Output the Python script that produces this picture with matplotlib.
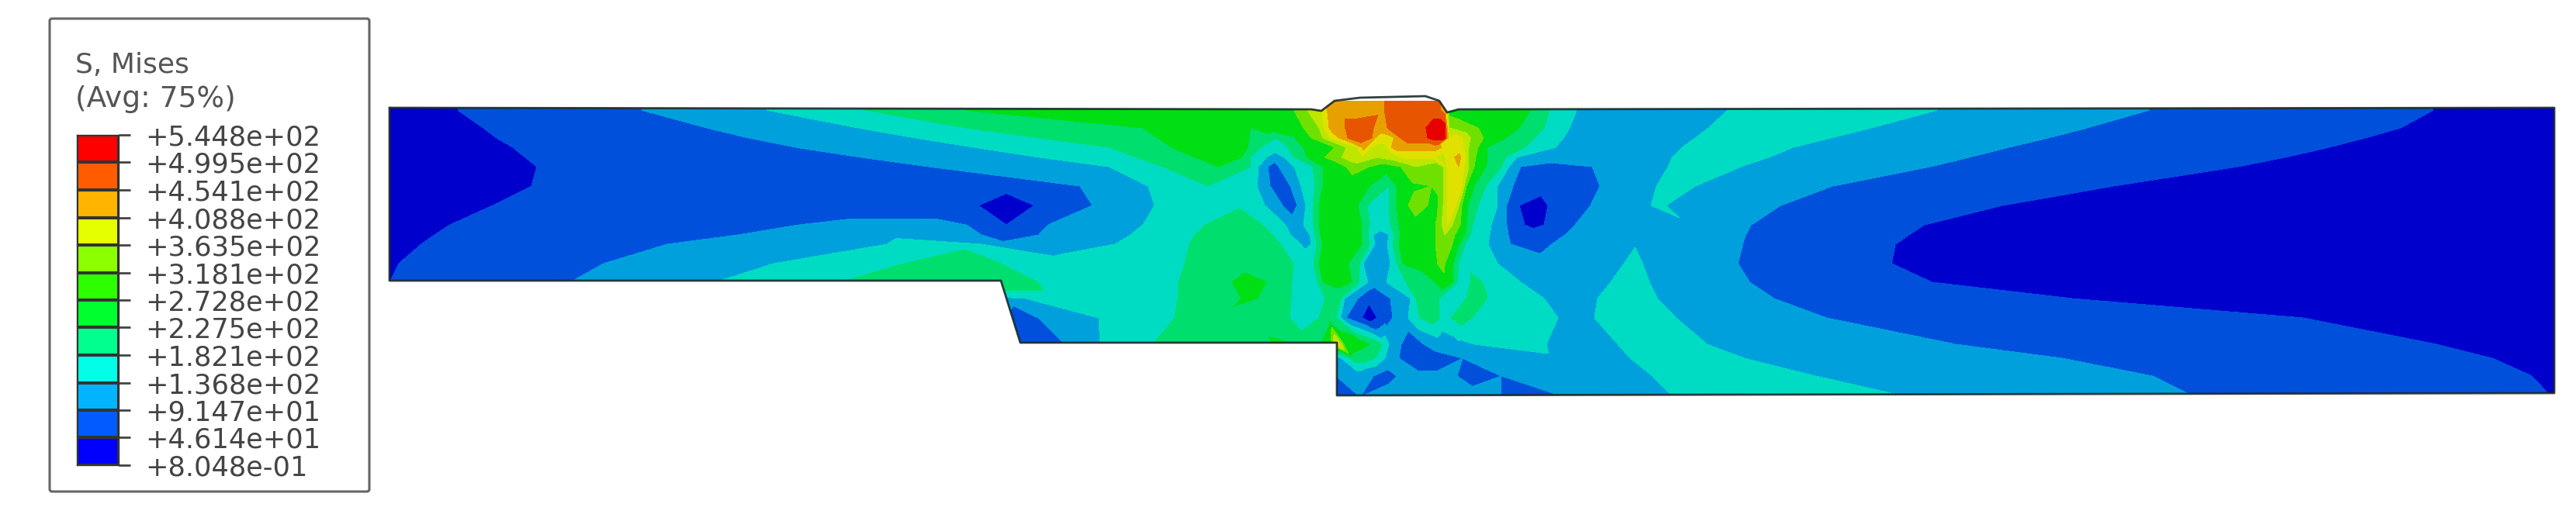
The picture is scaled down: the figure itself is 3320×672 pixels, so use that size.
import numpy as np
import matplotlib
matplotlib.use("Agg")
import matplotlib.pyplot as plt
import matplotlib.tri as mtri
from matplotlib.patches import PathPatch, FancyBboxPatch
from matplotlib.path import Path
from matplotlib.colors import ListedColormap, BoundaryNorm

LEGEND_TITLE = ["S, Mises", "(Avg: 75%)"]
LEVELS = [0.8048, 46.14, 91.47, 136.8, 182.1, 227.5, 272.8, 318.1, 363.5, 408.8, 454.1, 499.5, 544.8]
LEVEL_LABELS = ["+8.048e-01", "+4.614e+01", "+9.147e+01", "+1.368e+02", "+1.821e+02", "+2.275e+02",
                "+2.728e+02", "+3.181e+02", "+3.635e+02", "+4.088e+02", "+4.541e+02", "+4.995e+02", "+5.448e+02"]
LEGEND_COLORS = ["#0000ff", "#005cff", "#00b4ff", "#00ffe6", "#00ff8c", "#00ff2e",
                 "#2eff00", "#8cff00", "#e6ff00", "#ffb400", "#ff5c00", "#ff0000"]
BODY_COLORS = ["#0000cd", "#0050dc", "#00a0dc", "#00dcc3", "#00de6e", "#00de14",
               "#6ee100", "#bee600", "#e1e100", "#e8a000", "#e85500", "#e60000"]

# outline of the section (x px, y px)
OUTLINE_X = [502, 3292, 3292, 1723, 1723, 1315, 1290, 502, 502]
OUTLINE_Y = [139, 139, 507, 510, 442, 442, 362, 362, 139]
CAP_X = [1690, 1703, 1720, 1753, 1837, 1855, 1865, 1880]
CAP_Y = [141, 143, 130, 126, 124, 130, 145, 141]

# Samples: (x, contour band position), row by row.
row_130 = [(502,.5),(590,1),(700,1.5),(827,2),(900,2.5),(988,3),(1050,3.5),(1114,4),(1180,4.5),(1245,5),(1450,5.5),(1608,5.7),(1690,6),(1710,9),(1730,9.5),(1780,9.8),(1795,10.5),(1850,10.5),(1862,9.5),(1880,5.5),(1972,5),(1997,4),(2032,3),(2120,2.5),(2227,3),(2360,3.5),(2497,3),(2630,2.5),(2770,2),(2950,1.5),(3136,1),(3292,.5)]
row_142 = [(502,.5),(590,1),(700,1.5),(827,2),(900,2.5),(988,3),(1050,3.5),(1114,4),(1180,4.5),(1245,5),(1450,5.5),(1608,5.7),(1660,5.7),(1680,6.5),(1690,7.5),(1703,8),(1712,9.2),(1730,9.5),(1780,9.8),(1795,10.5),(1850,10.5),(1862,9.5),(1868,5.5),(1972,5),(1997,4),(2032,3),(2120,2.5),(2227,3),(2360,3.5),(2497,3),(2630,2.5),(2770,2),(2950,1.5),(3136,1),(3292,.5)]
row_165 = [(502,.5),(623,1),(760,1.5),(911,2),(1010,2.5),(1106,3),(1180,3.5),(1245,4),(1360,4.5),(1473,5),(1540,5.5),(1600,5.5),(1612,5),(1640,5.5),(1680,6),(1700,7),(1710,8.5),(1716,9.5),(1733,9.9),(1738,10.5),(1765,10.5),(1772,9.8),(1780,9.5),(1788,10),(1810,10.5),(1835,10.8),(1845,11.5),(1862,11.5),(1868,7),(1890,6.5),(1905,6),(1958,5),(1990,4),(2023,3),(2120,2.5),(2202,3),(2300,3.5),(2412,3),(2550,2.5),(2690,2),(2880,1.5),(3094,1),(3292,.5)]
row_178 = [(502,.5),(640,1),(800,1.5),(965,2),(1075,2.5),(1180,3),(1265,3.5),(1340,4),(1420,4.5),(1492,5),(1550,5.5),(1604,5.5),(1612,4.8),(1625,4.5),(1645,4),(1665,4.8),(1690,6),(1705,7),(1720,8.5),(1732,9.5),(1737,10),(1750,10.5),(1768,10),(1772,9),(1780,8.5),(1795,8.8),(1805,10),(1830,10.5),(1840,11),(1850,11.5),(1862,11.3),(1868,8),(1880,8.5),(1890,7.5),(1900,6.5),(1912,6),(1940,5),(1978,4),(2015,3),(2100,2.5),(2185,3),(2270,3.5),(2360,3),(2500,2.5),(2640,2),(2840,1.5),(3048,1),(3292,.5)]
row_190 = [(502,.5),(661,1),(840,1.5),(1025,2),(1140,2.5),(1255,3),(1350,3.5),(1429,4),(1480,4.5),(1510,5),(1560,5.5),(1604,5.5),(1612,4.5),(1625,4),(1642,3.5),(1660,4),(1680,5),(1700,5.7),(1720,6),(1735,7),(1748,7.8),(1752,8.5),(1758,9.5),(1763,8.5),(1770,7.8),(1785,7.5),(1790,8.5),(1797,9.5),(1850,9.5),(1858,9),(1862,8.5),(1868,9),(1882,8.5),(1893,7),(1905,6),(1917,5),(1950,4.5),(1965,4),(2005,3),(2090,2.5),(2168,3),(2240,3.5),(2311,3),(2450,2.5),(2589,2),(2800,1.5),(3002,1),(3292,.5)]
row_203 = [(502,.5),(677,1),(890,1.5),(1110,2),(1230,2.5),(1340,3),(1405,3.5),(1465,4),(1510,4.5),(1540,5),(1570,5.5),(1600,5),(1612,4),(1622,3.5),(1632,3),(1645,2.5),(1655,3),(1668,4),(1685,5),(1700,5.7),(1720,6.5),(1740,7.5),(1755,7.8),(1775,7),(1795,7.5),(1810,8.2),(1845,8.2),(1860,7.5),(1866,8.5),(1880,9.3),(1887,8.5),(1893,7),(1902,6),(1917,5),(1940,4),(1955,3),(1990,2.7),(2030,2.7),(2100,2.5),(2155,3),(2220,3.5),(2280,3),(2400,2.5),(2538,2),(2740,1.5),(2945,1),(3292,.5)]
row_215 = [(502,.5),(692,1),(950,1.5),(1197,2),(1320,2.5),(1429,3),(1460,3.5),(1498,4),(1540,4.5),(1570,5),(1600,4.8),(1612,4),(1622,3),(1634,2),(1640,1.5),(1648,2),(1668,3),(1678,3.5),(1692,4),(1705,5),(1725,5.5),(1745,6.5),(1765,6),(1785,5.5),(1805,6),(1825,7),(1855,6),(1865,8),(1880,9),(1887,8),(1893,7),(1900,6),(1915,5),(1935,4),(1945,3),(1960,2),(2005,1.5),(2052,2),(2100,2.5),(2150,3),(2200,3.5),(2244,3),(2370,2.5),(2488,2),(2690,1.5),(2884,1),(3292,.5)]
row_240 = [(502,.5),(685,1),(1000,1.5),(1200,1.6),(1297,1.3),(1392,2),(1440,2.5),(1480,3),(1520,3.5),(1557,4),(1585,3.8),(1600,3.5),(1620,3),(1628,2.5),(1637,2),(1650,1.5),(1663,2),(1677,3),(1687,3.5),(1695,4),(1705,5),(1740,5.3),(1765,5),(1780,4.5),(1790,4),(1800,5),(1820,5.8),(1845,6),(1858,6.5),(1866,8),(1878,9),(1884,8),(1890,6),(1900,5),(1915,4),(1930,3),(1945,2.2),(1950,2),(1995,1.5),(2062,2),(2095,2.5),(2135,3),(2160,3.5),(2185,3),(2280,2.5),(2362,2),(2550,1.5),(2724,1),(3292,.5)]
row_265 = [(502,.5),(635,1),(1000,1.5),(1230,1.5),(1261,1),(1297,.5),(1333,1),(1370,1.5),(1408,2),(1450,2.5),(1488,3),(1550,3.5),(1597,3.9),(1610,3.5),(1630,3),(1642,2.5),(1653,2),(1663,1.5),(1672,2),(1683,3),(1692,4),(1700,5),(1725,5.5),(1750,5),(1762,4),(1775,3.5),(1790,4),(1800,5),(1815,6),(1830,6.5),(1850,5.5),(1860,7),(1868,8.5),(1876,8),(1884,6),(1892,5),(1905,4),(1930,3),(1942,2),(1958,1),(1977,.5),(1995,1),(2050,2),(2090,2.5),(2128,3),(2138,3.5),(2147,3),(2220,2.5),(2295,2),(2440,1.5),(2581,1),(3292,.5)]
row_290 = [(502,.5),(580,1),(800,1.5),(1030,2),(1130,2.2),(1200,2.2),(1245,2),(1270,1.5),(1297,1),(1325,1.5),(1351,2),(1410,2.5),(1473,3),(1510,3.5),(1553,4),(1600,4.5),(1627,4),(1645,3.5),(1657,3),(1668,2.5),(1680,3),(1693,4),(1700,5),(1730,5.6),(1755,5),(1765,4),(1778,3.5),(1792,4),(1803,5),(1820,5.6),(1845,5.5),(1855,6.5),(1865,8),(1872,7),(1882,6),(1890,5),(1898,4),(1912,3.5),(1922,3),(1935,2.5),(1942,2),(1955,1.5),(1965,1),(1977,.7),(1990,1),(2005,1.5),(2030,2),(2075,2.5),(2100,2.7),(2180,2.7),(2257,2),(2370,1.5),(2480,1),(3292,.5)]
row_303 = [(502,.5),(560,1),(760,1.5),(951,2),(1100,2.5),(1265,2),(1300,1.5),(1339,2),(1400,2.5),(1457,3),(1500,3.5),(1540,4),(1585,4.5),(1620,4.5),(1640,4),(1652,3.5),(1663,3),(1675,2.5),(1688,3),(1695,4),(1702,5),(1730,5.5),(1755,5),(1763,4),(1770,3),(1780,2.6),(1790,3),(1797,4),(1805,5),(1830,5.5),(1850,6),(1862,7),(1870,6.5),(1880,5.5),(1888,5),(1895,4),(1908,3.4),(1920,3),(1935,2.5),(1944,2),(1975,1.5),(2017,2),(2060,2.5),(2108,2.8),(2180,2.7),(2250,2),(2360,1.5),(2460,1),(3292,.5)]
row_315 = [(502,.5),(543,1),(680,1.5),(860,2),(1000,2.5),(1143,3),(1205,3.5),(1245,3.8),(1265,3),(1280,2.5),(1290,2.2),(1340,2.5),(1437,3),(1490,3.5),(1533,4),(1600,4.5),(1650,4),(1662,3.5),(1677,3),(1682,2.8),(1690,3),(1697,4),(1705,5),(1735,5.5),(1755,5),(1765,4),(1772,3),(1780,2.4),(1788,3),(1795,4),(1803,5),(1830,5.5),(1850,6),(1862,6.8),(1872,6),(1880,5),(1888,4),(1905,3.5),(1918,3),(1935,2.5),(1947,2),(1970,1.5),(2000,2),(2040,2.4),(2108,2.9),(2180,2.7),(2246,2),(2350,1.5),(2443,1),(3292,.5)]
row_340 = [(502,.6),(514,1),(640,1.5),(778,2),(890,2.5),(997,3),(1080,3.5),(1165,4),(1240,4.5),(1290,4),(1400,3.5),(1527,4),(1600,4.5),(1667,4),(1680,3.5),(1693,4),(1700,5),(1730,5.5),(1752,4),(1757,3),(1762,2.5),(1785,2.5),(1792,3),(1800,4),(1808,5),(1835,5.5),(1860,6.2),(1868,5.5),(1875,4.8),(1880,4),(1886,3.8),(1930,3),(2000,2.5),(2093,3),(2105,3.5),(2117,3),(2180,2.5),(2240,2),(2340,1.5),(2438,1),(3292,.5)]
row_364 = [(502,1),(620,1.5),(735,2),(880,2.5),(922,3),(1000,3.5),(1083,4),(1200,4.5),(1289,4.5),(1320,4.2),(1337,4),(1400,3.5),(1519,4),(1570,4.5),(1588,5),(1609,5.5),(1632,5),(1650,4.5),(1665,4),(1675,3.5),(1690,3.1),(1698,4),(1705,5),(1730,5.3),(1742,5),(1752,4),(1757,3.9),(1763,3),(1770,2.5),(1787,3),(1800,3.5),(1812,4),(1830,4.3),(1850,5),(1862,5.8),(1872,5),(1878,4),(1884,3.8),(1895,4),(1905,4.2),(1911,4),(1960,3),(2010,2.5),(2076,3),(2100,3.5),(2126,3),(2190,2.5),(2255,2),(2380,1.5),(2490,1),(3292,.5)]
row_385 = [(1298,2.3),(1322,3),(1400,3.5),(1518,4),(1590,4.5),(1600,5),(1609,5.3),(1620,5),(1640,4.5),(1664,4),(1677,3.5),(1690,3.4),(1700,3.9),(1708,4),(1716,4.5),(1728,4),(1733,3),(1740,2.5),(1750,2),(1757,1.5),(1765,1.2),(1775,1),(1783,1.5),(1792,2),(1805,2.5),(1818,3),(1825,4),(1840,4.6),(1855,4),(1865,3.5),(1885,3.8),(1890,4),(1905,4.5),(1917,4),(1950,3.5),(1990,3),(2040,2.5),(2059,3),(2100,3.5),(2136,3),(2200,2.5),(2286,2),(2420,1.5),(2670,1),(3292,.5)]
row_410 = [(1304,1.8),(1320,1.5),(1338,2),(1370,2.5),(1416,3),(1465,3.5),(1514,4),(1560,4.5),(1640,4.5),(1662,4),(1675,3.5),(1690,3.8),(1700,4),(1712,4.5),(1722,4),(1728,3),(1735,2),(1745,1.5),(1755,1),(1763,.5),(1775,1),(1785,1.5),(1795,2),(1808,2.5),(1815,3),(1822,3.7),(1830,4),(1845,4.5),(1855,4),(1862,3.5),(1870,4),(1885,4.5),(1897,4),(1930,3.5),(2008,3),(2030,2.7),(2055,3),(2080,3.5),(2160,3),(2250,2.5),(2354,2),(2660,1.5),(2968,1),(3292,.5)]
row_444 = [(1314,1.6),(1373,2),(1395,2.5),(1418,3),(1450,3.5),(1486,4),(1560,4.6),(1620,4.8),(1640,5),(1665,5.2),(1680,4.5),(1700,4.8),(1715,6),(1721,8),(1725,8.5),(1732,6),(1755,5.5),(1775,4.5),(1785,3.7),(1790,3),(1800,2.5),(1806,2),(1822,1.5),(1835,2),(1855,2.5),(1880,2.8),(1900,3),(1947,3.4),(1993,3),(2030,2.5),(2080,2.9),(2085,3),(2130,3.5),(2200,3),(2350,2.5),(2520,2),(2830,1.5),(3140,1),(3292,.5)]
row_462 = [(1722,2.5),(1735,3.5),(1745,4.5),(1762,4.5),(1775,3.8),(1785,3),(1795,2.5),(1803,2),(1845,1.5),(1885,2),(1950,2.5),(2020,2.8),(2101,3),(2160,3.5),(2248,3),(2380,2.5),(2657,2),(2950,1.5),(3212,1),(3292,.6)]
row_485 = [(1722,2),(1750,2.4),(1770,2),(1785,1.7),(1800,2),(1820,2.2),(1855,2.2),(1878,2),(1895,1.7),(1935,2),(1990,2.5),(2050,2.6),(2130,3),(2220,3.5),(2340,3),(2500,2.5),(2774,2),(3000,1.5),(3263,1),(3292,.8)]
row_512 = [(1722,1.5),(1753,2),(1800,2.5),(1900,2.3),(1935,2),(1975,1.5),(2017,2),(2090,2.5),(2156,3),(2300,3.5),(2459,3),(2640,2.5),(2829,2),(3100,1.5),(3288,1),(3292,.9)]
ROWS = {130: row_130, 142: row_142, 165: row_165, 178: row_178, 190: row_190, 203: row_203, 215: row_215, 240: row_240, 265: row_265,
        290: row_290, 303: row_303, 315: row_315, 340: row_340, 364: row_364, 385: row_385, 410: row_410,
        444: row_444, 462: row_462, 485: row_485, 512: row_512}


def stitch(a_start, a, b_start, b):
    """Triangles between two neighbouring rows, joining samples of like value."""
    na, nb = len(a), len(b)
    cost = np.full((na, nb), np.inf)
    back = np.zeros((na, nb), int)
    def edge(i, j):
        xa, xb = a[i][0], b[j][0]
        weld = 1600 < xa < 1950 and 1600 < xb < 1950
        return abs(a[i][1] - b[j][1]) + (abs(xa - xb) / (30.0 if weld else 300.0)) ** 2
    cost[0, 0] = edge(0, 0)
    for i in range(na):
        for j in range(nb):
            if i and cost[i - 1, j] + edge(i, j) < cost[i, j]:
                cost[i, j] = cost[i - 1, j] + edge(i, j); back[i, j] = 0
            if j and cost[i, j - 1] + edge(i, j) < cost[i, j]:
                cost[i, j] = cost[i, j - 1] + edge(i, j); back[i, j] = 1
    out, i, j = [], na - 1, nb - 1
    while i or j:
        if back[i, j] == 0:
            out.append((a_start + i - 1, a_start + i, b_start + j)); i -= 1
        else:
            out.append((a_start + i, b_start + j - 1, b_start + j)); j -= 1
    return out


xs, ys, vs, triangles, starts = [], [], [], [], []
keys = list(ROWS)
for yy in keys:
    starts.append(len(xs))
    for xx, band in ROWS[yy]:
        xs.append(xx); ys.append(yy); vs.append(band)
for k in range(len(keys) - 1):
    triangles += stitch(starts[k], ROWS[keys[k]], starts[k + 1], ROWS[keys[k + 1]])
stress = np.interp(vs, np.arange(len(LEVELS)), LEVELS)

fig = plt.figure(figsize=(33.2, 6.72), dpi=100, facecolor="white")
ax = fig.add_axes([0, 0, 1, 1])
ax.set_xlim(0, 3320)
ax.set_ylim(672, 0)
ax.axis("off")

tri = mtri.Triangulation(np.array(xs, float), np.array(ys, float), triangles=np.array(triangles))
cs = ax.tricontourf(tri, stress, levels=LEVELS, colors=BODY_COLORS)

# clip to the section outline with the weld cap
verts = [(OUTLINE_X[0], OUTLINE_Y[0])] + list(zip(CAP_X, CAP_Y)) + list(zip(OUTLINE_X[1:], OUTLINE_Y[1:]))
path = Path(verts, closed=False)
clip = PathPatch(path, transform=ax.transData, fc="none", ec="none")
ax.add_patch(clip)
cs.set_clip_path(clip)
ax.add_patch(PathPatch(path, fc="none", ec="#1c2a2a", lw=2.0, joinstyle="round", capstyle="round", zorder=5, alpha=0.9))

# legend frame
ax.add_patch(FancyBboxPatch((64, 24), 412, 610, boxstyle="round,pad=0,rounding_size=3", fc="white", ec="#666666", lw=2.2, zorder=6))
for text, yy, size in zip(LEGEND_TITLE, [84, 128], [26, 27]):
    ax.text(97, yy, text, fontsize=size, color="#555555", va="center", ha="left", family="DejaVu Sans", zorder=7)

cax = fig.add_axes([99 / 3320, 1 - 600 / 672, 54 / 3320, 426 / 672], zorder=8)
cmap = ListedColormap(LEGEND_COLORS)
cax.pcolormesh([0, 1], LEVELS, np.arange(12).reshape(-1, 1), cmap=cmap,
               norm=BoundaryNorm(np.arange(13) - 0.5, 12), edgecolors="#333333", linewidth=1.6)
cax.set_xticks([])
cax.set_ylim(LEVELS[0], LEVELS[-1])
cax.yaxis.tick_right()
cax.set_yticks(LEVELS)
cax.set_yticklabels(LEVEL_LABELS, fontsize=25.3, color="#444444", family="DejaVu Sans")
cax.tick_params(axis="y", length=11, width=2.0, color="#444444", pad=14)
for s in cax.spines.values():
    s.set_linewidth(1.0)
    s.set_color("#333333")

fig.savefig("out.png", dpi=100, facecolor="white")
